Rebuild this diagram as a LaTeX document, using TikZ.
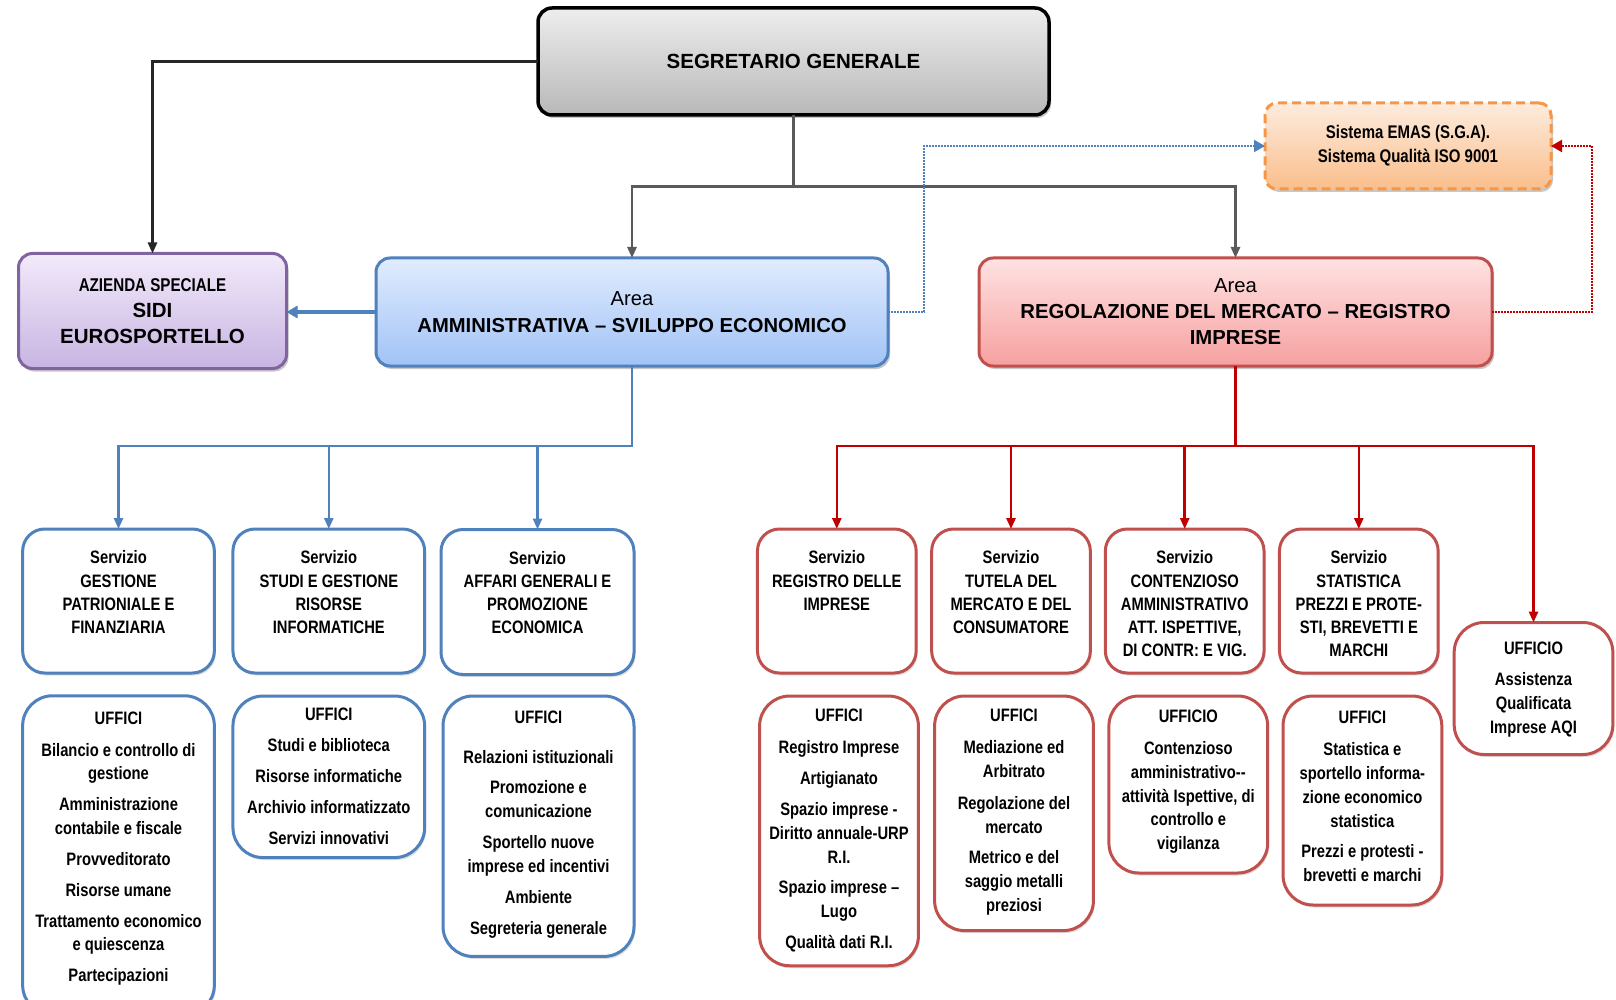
\documentclass[tikz,border=0pt]{standalone}
\usepackage{fontspec}
\setmainfont{Liberation Sans}
\newfontfamily\cond[FakeStretch=0.82]{Liberation Sans}
\usetikzlibrary{arrows.meta,shadows}
\definecolor{blueB}{HTML}{4F81BD}
\definecolor{redB}{HTML}{C0504D}
\definecolor{redL}{HTML}{C00000}
\definecolor{grayL}{HTML}{5A5A5A}
\definecolor{darkL}{HTML}{262626}
\definecolor{orangeB}{HTML}{F79646}
\definecolor{purpleB}{HTML}{8064A2}
\newcommand\tb[4]{\parbox[c][#1][t]{#2}{\centering\vspace*{#3}#4\par}}
\newcommand\nx{\\[7.2pt]}
\begin{document}
\begin{tikzpicture}[x=1pt,y=-1pt,
  every node/.style={inner sep=0pt,outer sep=0pt},
  shd/.style={drop shadow={shadow xshift=2pt,shadow yshift=-3pt,opacity=0.3,fill=black!70}},
  lshd/.style={drop shadow={shadow xshift=1.5pt,shadow yshift=-2.5pt,opacity=0.18,fill=black!70}},
  bigbox/.style={rounded corners=14pt,line width=3pt,shd,align=center},
  segbox/.style={bigbox,draw=black,line width=3.5pt,top color=black!7,bottom color=black!28,
     minimum width=511pt,minimum height=107pt,font=\bfseries\fontsize{20.5}{25}\selectfont},
  azbox/.style={bigbox,draw=purpleB,top color={rgb,255:red,242;green,234;blue,250},bottom color={rgb,255:red,200;green,180;blue,226},
     minimum width=268pt,minimum height=115pt,font=\bfseries\fontsize{20.5}{26}\selectfont},
  ammbox/.style={bigbox,draw=blueB,top color={rgb,255:red,226;green,236;blue,255},bottom color={rgb,255:red,160;green,195;blue,246},
     minimum width=512pt,minimum height=108pt,font=\fontsize{20.2}{26.5}\selectfont},
  regbox/.style={bigbox,draw=redB,top color={rgb,255:red,255;green,226;blue,226},bottom color={rgb,255:red,246;green,160;blue,160},
     minimum width=513pt,minimum height=108pt,font=\fontsize{20.3}{26}\selectfont},
  emasbox/.style={rounded corners=12pt,draw=orangeB,line width=3pt,dash pattern=on 9pt off 5pt,shd,align=center,
     top color={rgb,255:red,253;green,236;blue,222},bottom color={rgb,255:red,250;green,190;blue,140},
     minimum width=286pt,minimum height=86pt,font=\cond\bfseries\fontsize{18.3}{24}\selectfont},
  svcB/.style={draw=blueB,line width=3pt,rounded corners=22pt,fill=white,lshd,font=\cond\bfseries\fontsize{18}{23.2}\selectfont},
  svcR/.style={svcB,draw=redB},
  ufB/.style={draw=blueB,line width=3pt,rounded corners=30pt,fill=white,lshd,font=\cond\bfseries\fontsize{18}{23.7}\selectfont},
  ufR/.style={ufB,draw=redB},
  conn/.style={line width=2.6pt},
  tip/.style={-{Triangle[length=11pt,width=9pt]}},
  dotl/.style={line width=2.2pt,dash pattern=on 1.6pt off 1.4pt,-{Triangle[length=11pt,width=12pt]}}
]
\useasboundingbox (0,0) rectangle (1616,1000);
\clip (0,0) rectangle (1616,1000);
\fill[white] (0,0) rectangle (1616,1000);

% top level
\node[segbox] (seg) at (793.5,61.5) {SEGRETARIO GENERALE};
\node[azbox] (az) at (152.5,311) {{\cond\fontsize{18.5}{26}\selectfont AZIENDA SPECIALE}\\SIDI\\EUROSPORTELLO};
\node[ammbox] (amm) at (632,312) {Area\\\textbf{AMMINISTRATIVA – SVILUPPO ECONOMICO}};
\node[regbox] (reg) at (1235.5,312) {Area\\\textbf{REGOLAZIONE DEL MERCATO – REGISTRO}\\\textbf{IMPRESE}};
\node[emasbox] (emas) at (1408,146) {Sistema EMAS (S.G.A).\\Sistema Qualità ISO 9001};

% blue services
\node[svcB] (b1) at (118.5,601) {\tb{144pt}{191.7pt}{21.8pt}{Servizio\\GESTIONE\\PATRIONIALE E\\FINANZIARIA}};
\node[svcB] (b2) at (328.8,601) {\tb{144pt}{191.7pt}{21.8pt}{Servizio\\STUDI E GESTIONE\\RISORSE\\INFORMATICHE}};
\node[svcB] (b3) at (537.5,602) {\tb{145pt}{193pt}{21.8pt}{Servizio\\AFFARI GENERALI E\\PROMOZIONE\\ECONOMICA}};

\node[ufB] (u1) at (118.5,855.4) {\tb{319.3pt}{191.7pt}{15.7pt}{UFFICI\\[8.3pt]Bilancio e controllo di\\gestione\nx Amministrazione\\contabile e fiscale\nx Provveditorato\nx Risorse umane\nx Trattamento economico\\e quiescenza\nx Partecipazioni}};
\node[ufB] (u2) at (328.8,776.8) {\tb{161.5pt}{191.7pt}{12.3pt}{UFFICI\\[7.2pt]Studi e biblioteca\nx Risorse informatiche\nx Archivio informatizzato\nx Servizi innovativi}};
\node[ufB] (u3) at (538.5,826.2) {\tb{260.4pt}{191pt}{15.4pt}{UFFICI\\[15.4pt]Relazioni istituzionali\nx Promozione e\\comunicazione\nx Sportello nuove\\imprese ed incentivi\nx Ambiente\nx Segreteria generale}};

% red services
\node[svcR] (r1) at (836.8,601) {\tb{144pt}{158.7pt}{21.8pt}{Servizio\\REGISTRO DELLE\\IMPRESE}};
\node[svcR] (r2) at (1011,601) {\tb{144pt}{158.7pt}{21.8pt}{Servizio\\TUTELA DEL\\MERCATO E DEL\\CONSUMATORE}};
\node[svcR] (r3) at (1184.7,601) {\tb{144pt}{158.7pt}{21.8pt}{Servizio\\CONTENZIOSO\\AMMINISTRATIVO\\ATT. ISPETTIVE,\\DI CONTR: E VIG.}};
\node[svcR] (r4) at (1358.8,601) {\tb{144pt}{158.7pt}{21.8pt}{Servizio\\STATISTICA\\PREZZI E PROTE-\\STI, BREVETTI E\\MARCHI}};
\node[ufR] (aqi) at (1533.5,688.5) {\tb{132pt}{158.7pt}{19.9pt}{UFFICIO\nx Assistenza\\Qualificata\\Imprese AQI}};

\node[ufR] (ru1) at (839,830.9) {\tb{269.7pt}{158.8pt}{13.3pt}{UFFICI\\[8.2pt]Registro Imprese\nx Artigianato\nx Spazio imprese -\\Diritto annuale-URP\\R.I.\nx Spazio imprese –\\Lugo\nx Qualità dati R.I.}};
\node[ufR] (ru2) at (1014,813.3) {\tb{234.6pt}{158.8pt}{13.3pt}{UFFICI\\[8.2pt]Mediazione ed\\Arbitrato\\[8.2pt]Regolazione del\\mercato\nx Metrico e del\\saggio metalli\\preziosi}};
\node[ufR] (ru3) at (1188.3,784.5) {\tb{177pt}{158.8pt}{14.3pt}{UFFICIO\\[8.3pt]Contenzioso\\amministrativo-{}-\\attività Ispettive, di\\controllo e\\vigilanza}};
\node[ufR] (ru4) at (1362.4,800.5) {\tb{209pt}{158.8pt}{15.4pt}{UFFICI\\[8.3pt]Statistica e\\sportello informa-\\zione economico\\statistica\nx Prezzi e protesti -\\brevetti e marchi}};

% connectors
\coordinate (busS) at (0,186.5);
\coordinate (busL) at (0,446);
\draw[conn,darkL,tip] (seg.west) -| (az.north);
\draw[conn,grayL,tip] (seg.south) -- (seg.south |- busS) -| (amm.north);
\draw[conn,grayL,tip] (seg.south) -- (seg.south |- busS) -| (reg.north);
\draw[line width=3.5pt,blueB,-{Triangle[length=11pt,width=12pt]}] (amm.west) -- (amm.west -| az.east);
\draw[dotl,blueB] (amm.east) -- ++(36,0) |- (emas.west);
\draw[dotl,redL] (reg.east) -- ++(100,0) |- (emas.east);
\foreach \t in {b1,b2,b3}{
  \draw[conn,blueB,tip] (amm.south) -- (amm.south |- busL) -| (\t.north);
}
\foreach \t in {r1,r2,r3,r4,aqi}{
  \draw[conn,redL,tip] (reg.south) -- (reg.south |- busL) -| (\t.north);
}
\end{tikzpicture}
\end{document}
